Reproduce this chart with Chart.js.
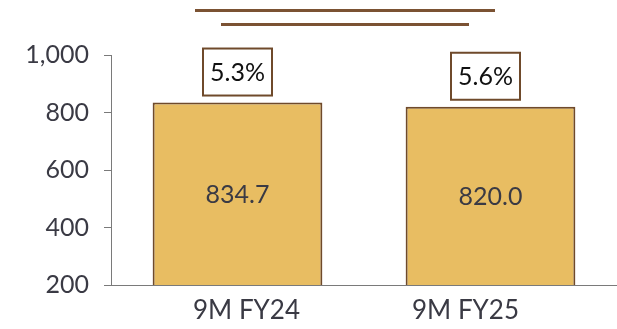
<!DOCTYPE html>
<html>
<head>
<meta charset="utf-8">
<script src="https://cdn.jsdelivr.net/npm/chart.js@4/dist/chart.umd.min.js"></script>
<style>
  html, body { margin: 0; padding: 0; background: #fff; }
  #wrap { width: 617px; height: 329px; }
</style>
</head>
<body>
<div id="wrap"><canvas id="chart"></canvas></div>
<script>
var periods = ["9M FY24", "9M FY25"];
var values = [834.7, 820.0];
var shares = ["5.3%", "5.6%"];
var yTicks = [200, 400, 600, 800, 1000];

var brown = "#6f4a2b";
var textColor = "#3a3a44";

// value inside each bar + boxed share above it
var barLabels = {
  id: "barLabels",
  afterDatasetsDraw: function(chart) {
    var ctx = chart.ctx;
    var meta = chart.getDatasetMeta(0);
    var bottom = chart.chartArea.bottom;
    ctx.save();
    ctx.font = "25px Lato";
    ctx.textAlign = "center";
    ctx.textBaseline = "middle";
    meta.data.forEach(function(bar, i) {
      var p = bar.getProps(["x", "y"], true);
      ctx.fillStyle = textColor;
      ctx.fillText(values[i].toFixed(1), p.x, (p.y + bottom) / 2 + 1);

      var w = 69, h = 47;
      var bx = p.x - w / 2 - (i ? 5 : 0), by = p.y - 7 - h;
      ctx.fillStyle = "#fff";
      ctx.fillRect(bx, by, w, h);
      ctx.strokeStyle = brown;
      ctx.lineWidth = 2;
      ctx.strokeRect(bx, by, w, h);
      ctx.fillStyle = "#111";
      ctx.fillText(shares[i], bx + w / 2, by + h / 2 + 1);
    });
    ctx.restore();
  }
};

// category labels sit a bit off the bar centres in the original
var xLabels = {
  id: "xLabels",
  afterDraw: function(chart) {
    var ctx = chart.ctx;
    var xs = chart.scales.x;
    var shift = [9, -25];
    ctx.save();
    ctx.font = "26px Lato";
    ctx.fillStyle = textColor;
    ctx.textAlign = "center";
    ctx.textBaseline = "middle";
    periods.forEach(function(p, i) {
      ctx.fillText(p, xs.getPixelForTick(i) + shift[i], chart.chartArea.bottom + 26);
    });
    ctx.restore();
  }
};

// two rules above the chart
var headerRules = {
  id: "headerRules",
  afterDraw: function(chart) {
    var ctx = chart.ctx;
    ctx.save();
    ctx.strokeStyle = "#7b5233";
    ctx.lineWidth = 3;
    ctx.beginPath();
    ctx.moveTo(195, 10.5); ctx.lineTo(495, 10.5);
    ctx.moveTo(221, 24.5); ctx.lineTo(469, 24.5);
    ctx.stroke();
    ctx.restore();
  }
};

new Chart(document.getElementById("chart"), {
  type: "bar",
  data: {
    labels: periods,
    datasets: [{
      data: values,
      backgroundColor: "#e8bd62",
      borderColor: brown,
      borderWidth: 2,
      borderSkipped: false,
      barPercentage: 0.671,
      categoryPercentage: 1
    }]
  },
  options: {
    responsive: true,
    maintainAspectRatio: false,
    animation: false,
    layout: { padding: { top: 55, left: 0, right: -4, bottom: 0 } },
    plugins: { legend: { display: false }, tooltip: { enabled: false } },
    scales: {
      x: {
        afterFit: function(scale) { scale.height = 44; },
        grid: { display: false, drawTicks: false },
        border: { display: true, color: "#7a7a7a", width: 1 },
        ticks: { display: false }
      },
      y: {
        min: 200,
        max: 1000,
        afterFit: function(scale) { scale.width = 111; },
        afterBuildTicks: function(scale) {
          scale.ticks = yTicks.map(function(v) { return { value: v }; });
        },
        grid: { drawOnChartArea: false, drawTicks: true, tickLength: 7, color: "#7a7a7a" },
        border: { display: true, color: "#7a7a7a", width: 1 },
        ticks: {
          color: textColor,
          font: { family: "Lato", size: 25 },
          padding: 15,
          callback: function(v) { return v.toLocaleString("en-US"); }
        }
      }
    }
  },
  plugins: [barLabels, xLabels, headerRules]
});
</script>
</body>
</html>
